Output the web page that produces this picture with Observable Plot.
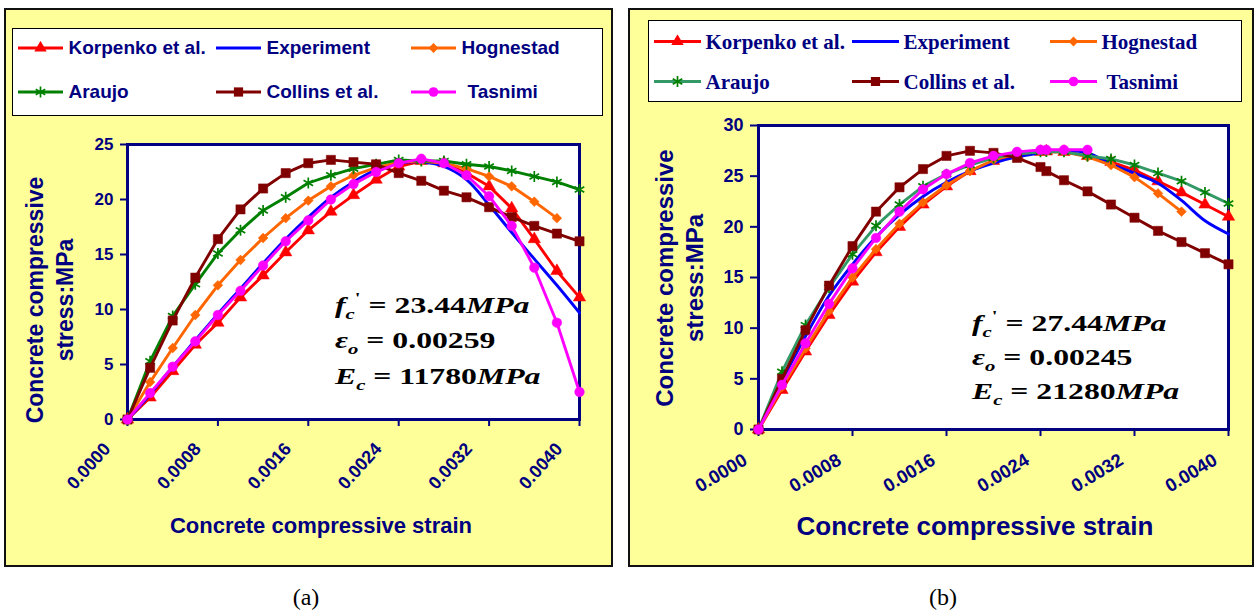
<!DOCTYPE html>
<html><head><meta charset="utf-8">
<script src="https://cdn.jsdelivr.net/npm/d3@7"></script>
<script src="https://cdn.jsdelivr.net/npm/@observablehq/plot@0.6"></script>
<style>
body{margin:0;background:#fff;}
#page{position:relative;width:1256px;height:613px;overflow:hidden;}
.box{position:absolute;background:#FFFF99;border:2px solid #111;box-sizing:border-box;}
.legend{position:absolute;background:#fff;border:1.5px solid #000;box-sizing:border-box;}
.item{position:absolute;display:flex;align-items:center;white-space:nowrap;color:#000080;font-weight:bold;transform:translateY(-50%);}
.item svg{display:block;}
.ytitle{position:absolute;white-space:nowrap;text-align:center;color:#000080;font:bold 23px "Liberation Sans",Arial,sans-serif;line-height:30px;transform:translate(-50%,-50%) rotate(-90deg);}
.xtitle{position:absolute;white-space:nowrap;color:#000080;font-weight:bold;font-family:"Liberation Sans",Arial,sans-serif;transform:translate(-50%,-50%);}
.ann{position:absolute;white-space:nowrap;font-family:"Liberation Serif","Times New Roman",serif;font-weight:bold;font-size:23px;line-height:23px;color:#000;transform:scaleX(1.38);transform-origin:0 50%;}
.ann i{font-style:italic;}
.sub{font-size:15px;position:relative;top:6px;}
.sup{font-size:15px;position:relative;top:-10px;}
.cap{position:absolute;font-family:"Liberation Serif","Times New Roman",serif;font-size:24px;transform:translate(-50%,-50%);}
.plot{position:absolute;top:0;}
#plotA g[aria-label="y-axis tick label"]{font-size:17px;font-weight:bold;}
#plotB g[aria-label="y-axis tick label"]{font-size:18px;font-weight:bold;}
</style>
</head><body>
<div id="page">
  <div class="box" style="left:4px;top:8px;width:609px;height:559px"></div>
  <div class="box" style="left:628px;top:8px;width:626px;height:559px"></div>
  <div id="legA" class="legend" style="left:12px;top:28px;width:591px;height:88px"></div>
  <div id="legB" class="legend" style="left:648px;top:20px;width:594px;height:82px"></div>
  <div id="plotA" class="plot" style="left:0px"></div>
  <div id="plotB" class="plot" style="left:628px"></div>
  <div class="ytitle" style="left:50px;top:300px">Concrete compressive<br>stress:MPa</div>
  <div class="ytitle" style="left:680px;top:278px;font-size:24px">Concrete compressive<br>stress:MPa</div>
  <div class="xtitle" style="left:321px;top:526px;font-size:22px">Concrete compressive strain</div>
  <div class="xtitle" style="left:975px;top:526px;font-size:26px">Concrete compressive strain</div>
  <div class="ann" style="left:335px;top:294px"><i>f</i><span class="sub"><i>c</i></span><span class="sup">'</span> = 23.44<i>MPa</i></div>
  <div class="ann" style="left:335px;top:329px"><i>ε</i><span class="sub"><i>o</i></span> = 0.00259</div>
  <div class="ann" style="left:335px;top:365px"><i>E</i><span class="sub"><i>c</i></span> = 11780<i>MPa</i></div>
  <div class="ann" style="left:972px;top:312px"><i>f</i><span class="sub"><i>c</i></span><span class="sup">'</span> = 27.44<i>MPa</i></div>
  <div class="ann" style="left:972px;top:346px"><i>ε</i><span class="sub"><i>o</i></span> = 0.00245</div>
  <div class="ann" style="left:972px;top:380px"><i>E</i><span class="sub"><i>c</i></span> = 21280<i>MPa</i></div>
  <div class="cap" style="left:306px;top:597px">(a)</div>
  <div class="cap" style="left:943px;top:597px">(b)</div>
</div>
<script>
// ---------- data ----------
const seriesNames = ["Korpenko et al.", "Experiment", "Hognestad", "Araujo", "Collins et al.", "Tasnimi"];
const xTicks = [0, 0.0008, 0.0016, 0.0024, 0.0032, 0.004];
const yTicksA = [0, 5, 10, 15, 20, 25];
const yTicksB = [0, 5, 10, 15, 20, 25, 30];

// Panel (a)
const strainA = [0, 0.0002, 0.0004, 0.0006, 0.0008, 0.001, 0.0012, 0.0014, 0.0016, 0.0018, 0.002, 0.0022, 0.0024, 0.0026, 0.0028, 0.003, 0.0032, 0.0034, 0.0036, 0.0038, 0.004];
const korpenkoA = [0, 2.0, 4.4, 6.8, 8.8, 11.1, 13.1, 15.2, 17.2, 18.9, 20.4, 21.8, 23.0, 23.5, 23.3, 22.4, 21.2, 19.2, 16.4, 13.5, 11.1];
const experimentA = [0, 2.3, 4.8, 7.2, 9.6, 11.9, 14.2, 16.4, 18.4, 20.2, 21.6, 22.7, 23.3, 23.4, 23.0, 21.8, 19.5, 17.0, 14.6, 12.2, 9.7];
const hognestadA = [0, 3.4, 6.5, 9.5, 12.2, 14.5, 16.5, 18.3, 19.9, 21.2, 22.2, 22.9, 23.4, 23.5, 23.3, 22.8, 22.1, 21.2, 19.8, 18.3];
const araujoA = [0, 5.3, 9.4, 12.3, 15.1, 17.2, 19.0, 20.2, 21.5, 22.2, 22.8, 23.2, 23.6, 23.5, 23.5, 23.2, 23.0, 22.6, 22.1, 21.6, 20.9];
const collinsA = [0, 4.7, 9.0, 12.9, 16.4, 19.1, 21.0, 22.4, 23.3, 23.6, 23.4, 23.2, 22.4, 21.7, 20.8, 20.2, 19.3, 18.4, 17.6, 16.9, 16.2];
const tasnimiA = [0, 2.4, 4.8, 7.1, 9.5, 11.7, 14.0, 16.2, 18.1, 20.0, 21.4, 22.5, 23.3, 23.7, 23.3, 22.2, 20.3, 17.6, 13.8, 8.8, 2.5];

// Panel (b)
const strainB = [0, 0.0002, 0.0004, 0.0006, 0.0008, 0.001, 0.0012, 0.0014, 0.0016, 0.0018, 0.002, 0.0022, 0.0024, 0.00245, 0.0026, 0.0028, 0.003, 0.0032, 0.0034, 0.0036, 0.0038, 0.004];
const korpenkoB = [0, 3.9, 7.7, 11.3, 14.6, 17.5, 20.0, 22.2, 24.0, 25.5, 26.5, 27.1, 27.4, 27.44, 27.4, 27.0, 26.4, 25.6, 24.5, 23.4, 22.2, 21.0];
const experimentB = [0, 4.8, 9.2, 13.2, 16.3, 19.0, 21.2, 23.0, 24.4, 25.5, 26.3, 26.9, 27.3, 27.4, 27.5, 27.3, 26.2, 25.3, 24.3, 22.6, 20.6, 19.3];
const hognestadB = [0, 4.2, 8.0, 11.7, 15.0, 17.8, 20.3, 22.4, 24.1, 25.5, 26.6, 27.2, 27.4, 27.44, 27.4, 26.9, 26.1, 24.9, 23.3, 21.5];
const araujoB = [0, 5.7, 10.3, 14.0, 17.3, 20.1, 22.2, 24.0, 25.2, 26.1, 26.8, 27.2, 27.4, 27.44, 27.4, 27.0, 26.7, 26.1, 25.3, 24.5, 23.4, 22.3];
const collinsB = [0, 5.0, 9.8, 14.2, 18.1, 21.5, 23.9, 25.7, 27.0, 27.5, 27.3, 26.8, 25.9, 25.5, 24.6, 23.5, 22.2, 20.9, 19.6, 18.5, 17.4, 16.3];
const tasnimiB = [0, 4.4, 8.5, 12.4, 15.9, 18.9, 21.5, 23.7, 25.2, 26.3, 27.0, 27.4, 27.6, 27.6, 27.6, 27.6];

// ---------- styles ----------
const NAVY = "#000080";
const styleA = [
  {line: "#FF0000", mark: "#FF0000", symbol: "triangle", r: 4.6},
  {line: "#0000FF", mark: null, curve: "catmull-rom"},
  {line: "#FF6600", mark: "#FF6600", symbol: "diamond2", r: 4.4},
  {line: "#008000", mark: "#008000", symbol: "asterisk", r: 5.2},
  {line: "#800000", mark: "#800000", symbol: "square", r: 5.2},
  {line: "#FF00FF", mark: "#FF00FF", symbol: "circle", r: 4.8}
];
const styleB = styleA.map((s, i) => i === 3 ? {...s, line: "#339966"} : s);

function buildPanel(el, strain, valuesList, styles, o) {
  const marks = [Plot.frame({fill: "white", stroke: NAVY, strokeWidth: 3})];
  marks.push(Plot.axisY({ticks: o.yTicks, tickSize: o.tickSize, tickPadding: 7, color: NAVY, strokeWidth: 2, fontSize: o.yFont, label: null}));
  marks.push(Plot.axisX({ticks: xTicks, tickSize: 7, tickFormat: () => "", color: NAVY, strokeWidth: 2, label: null}));
  marks.push(Plot.text(xTicks, {x: d => d, frameAnchor: "bottom", text: d => d.toFixed(4), rotate: o.rot, textAnchor: "end",
    dx: o.ldx, dy: o.ldy, fill: NAVY, fontSize: o.xFont, fontWeight: "bold"}));
  valuesList.forEach((vals, k) => {
    const s = styles[k];
    const data = vals.map((v, i) => ({x: strain[i], y: v, series: seriesNames[k]}));
    marks.push(Plot.line(data, {x: "x", y: "y", stroke: s.line, strokeWidth: 2.9, curve: s.curve || "linear"}));
    if (s.mark) {
      if (s.symbol === "asterisk")
        marks.push(Plot.dot(data, {x: "x", y: "y", symbol: "asterisk", stroke: s.mark, strokeWidth: 1.7, r: s.r}));
      else
        marks.push(Plot.dot(data, {x: "x", y: "y", symbol: s.symbol, fill: s.mark, stroke: s.mark, strokeWidth: 0.5, r: s.r}));
    }
  });
  const p = Plot.plot({
    width: o.width, height: o.height,
    marginLeft: o.ml, marginRight: o.mr, marginTop: o.mt, marginBottom: o.mb,
    x: {domain: [0, 0.004]},
    y: {domain: o.yDomain},
    style: {background: "transparent", overflow: "visible", fontFamily: "'Liberation Sans', Arial, sans-serif", fontWeight: "bold", color: NAVY},
    marks
  });
  el.appendChild(p);
}

buildPanel(document.getElementById("plotA"), strainA,
  [korpenkoA, experimentA, hognestadA, araujoA, collinsA, tasnimiA], styleA,
  {width: 620, height: 570, ml: 127, mr: 41, mt: 144, mb: 151, yDomain: [0, 25], yTicks: yTicksA,
   tickSize: 7, yFont: 17, xFont: 18, rot: -48, ldx: -16, ldy: 30});

buildPanel(document.getElementById("plotB"), strainB,
  [korpenkoB, experimentB, hognestadB, araujoB, collinsB, tasnimiB], styleB,
  {width: 628, height: 570, ml: 130, mr: 28, mt: 125, mb: 141, yDomain: [0, 30], yTicks: yTicksB,
   tickSize: 8, yFont: 18, xFont: 18.5, rot: -31, ldx: -10, ldy: 34});

// ---------- legends ----------
function swatch(s, w) {
  const svg = d3.create("svg").attr("width", w).attr("height", 14);
  svg.append("line").attr("x1", 0).attr("x2", w).attr("y1", 7).attr("y2", 7).attr("stroke", s.line).attr("stroke-width", 3);
  if (s.mark) {
    const symMap = {triangle: d3.symbolTriangle, diamond2: d3.symbolDiamond2, asterisk: d3.symbolAsterisk, square: d3.symbolSquare, circle: d3.symbolCircle};
    const size = Math.PI * s.r * s.r;
    const path = svg.append("path").attr("d", d3.symbol(symMap[s.symbol], size)()).attr("transform", `translate(${w / 2},7)`);
    if (s.symbol === "asterisk") path.attr("fill", "none").attr("stroke", s.mark).attr("stroke-width", 1.7);
    else path.attr("fill", s.mark);
  }
  return svg.node();
}
function buildLegend(leg, originX, originY, styles, cfg) {
  seriesNames.forEach((name, k) => {
    const col = k % 3, row = Math.floor(k / 3);
    const div = document.createElement("div");
    div.className = "item";
    div.style.left = (cfg.cols[col] - originX) + "px";
    div.style.top = (cfg.rows[row] - originY) + "px";
    div.style.font = cfg.font;
    div.appendChild(swatch(styles[k], cfg.sw));
    const t = document.createElement("span");
    t.textContent = name;
    t.style.marginLeft = (cfg.gap + (k === 5 ? cfg.extra : 0)) + "px";
    div.appendChild(t);
    leg.appendChild(div);
  });
}
buildLegend(document.getElementById("legA"), 12 + 1.5, 28 + 1.5, styleA,
  {cols: [18, 216, 411], rows: [48, 92], sw: 45, gap: 6, extra: 6, font: "bold 19px 'Liberation Sans', Arial, sans-serif"});
buildLegend(document.getElementById("legB"), 648 + 1.5, 20 + 1.5, styleB,
  {cols: [654, 852, 1050], rows: [42, 82], sw: 47, gap: 5, extra: 5, font: "bold 21px 'Liberation Serif', 'Times New Roman', serif"});
</script>
</body></html>
